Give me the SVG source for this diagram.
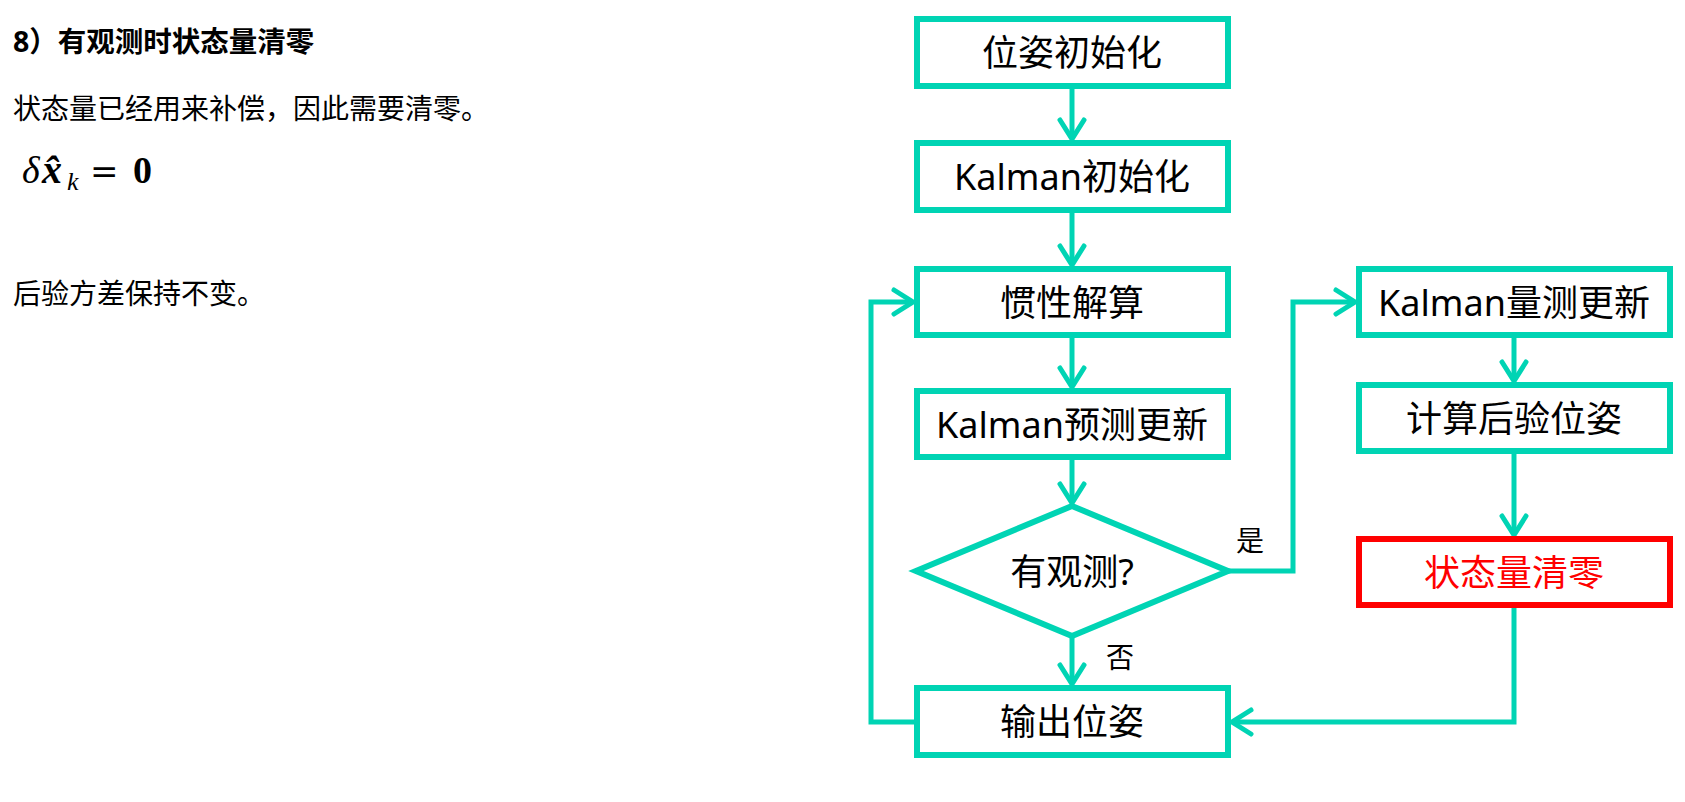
<svg xmlns="http://www.w3.org/2000/svg" width="1685" height="802" viewBox="0 0 1685 802">
<defs>
<style>
.box{fill:#fff;stroke:#00D4B4;stroke-width:6}
.red{fill:#fff;stroke:#FF0000;stroke-width:6}
.t{font-family:"Noto Sans","Noto Sans CJK SC",sans-serif;font-size:36px;fill:#000;text-anchor:middle}
.lbl{font-family:"Noto Sans CJK SC",sans-serif;font-size:28px;fill:#000;text-anchor:middle}
.p{font-family:"Noto Sans","Noto Sans CJK SC",sans-serif;font-size:28px;fill:#000}
.c{fill:none;stroke:#00D4B4;stroke-width:5;marker-end:url(#ah)}
.m{font-family:"Liberation Serif",serif;fill:#000}
</style>
<marker id="ah" markerUnits="userSpaceOnUse" markerWidth="40" markerHeight="40" viewBox="-30 -20 40 40" refX="0" refY="0" orient="auto">
<path d="M-19,-12 L0,0 L-19,12" fill="none" stroke="#00D4B4" stroke-width="5" stroke-linecap="round" stroke-linejoin="miter"/>
</marker>
</defs>
<rect width="1685" height="802" fill="#fff"/>
<g id="notes">
<text class="p" x="13" y="52" font-weight="bold" style="font-size:28.5px">8）有观测时状态量清零</text>
<text class="p" x="13" y="119">状态量已经用来补偿，因此需要清零。</text>
<text class="m" y="183" font-size="38"><tspan x="22" font-style="italic">δ</tspan><tspan x="42" font-style="italic" font-weight="bold" font-size="40">x̂</tspan><tspan x="67" y="190" font-size="26" font-style="italic">k</tspan><tspan x="90" y="183" font-family="DejaVu Serif" font-size="34">=</tspan><tspan x="133" font-weight="bold">0</tspan></text>
<text class="p" x="13" y="304">后验方差保持不变。</text>
</g>
<g id="connectors">
<path class="c" d="M1072,89 V139"/>
<path class="c" d="M1072,213 V265"/>
<path class="c" d="M1072,338 V387"/>
<path class="c" d="M1072,460 V503"/>
<path class="c" d="M1072,637 V684"/>
<path class="c" d="M914,722 H871 V302 H913"/>
<path class="c" d="M1229,571 H1293 V302 H1355"/>
<path class="c" d="M1514,338 V381"/>
<path class="c" d="M1514,454 V535"/>
<path class="c" d="M1514,608 V722 H1232"/>
<text class="lbl" x="1250" y="551">是</text>
<text class="lbl" x="1120" y="668">否</text>
</g>
<g id="n1"><rect class="box" x="917" y="19" width="311" height="67"/><text class="t" x="1072" y="66">位姿初始化</text></g>
<g id="n2"><rect class="box" x="917" y="143" width="311" height="67"/><text class="t" x="1072" y="190">Kalman初始化</text></g>
<g id="n3"><rect class="box" x="917" y="269" width="311" height="66"/><text class="t" x="1072" y="316">惯性解算</text></g>
<g id="n4"><rect class="box" x="917" y="391" width="311" height="66"/><text class="t" x="1072" y="438">Kalman预测更新</text></g>
<g id="n5"><polygon class="box" points="1072,506 1228,571 1072,636 916,571"/><text class="t" x="1072" y="585">有观测?</text></g>
<g id="n6"><rect class="box" x="917" y="688" width="311" height="67"/><text class="t" x="1072" y="735">输出位姿</text></g>
<g id="n7"><rect class="box" x="1359" y="269" width="311" height="66"/><text class="t" x="1514" y="316">Kalman量测更新</text></g>
<g id="n8"><rect class="box" x="1359" y="385" width="311" height="66"/><text class="t" x="1514" y="432">计算后验位姿</text></g>
<g id="n9"><rect class="red" x="1359" y="539" width="311" height="66"/><text class="t" x="1514" y="586" style="fill:#FF0000">状态量清零</text></g>
</svg>
